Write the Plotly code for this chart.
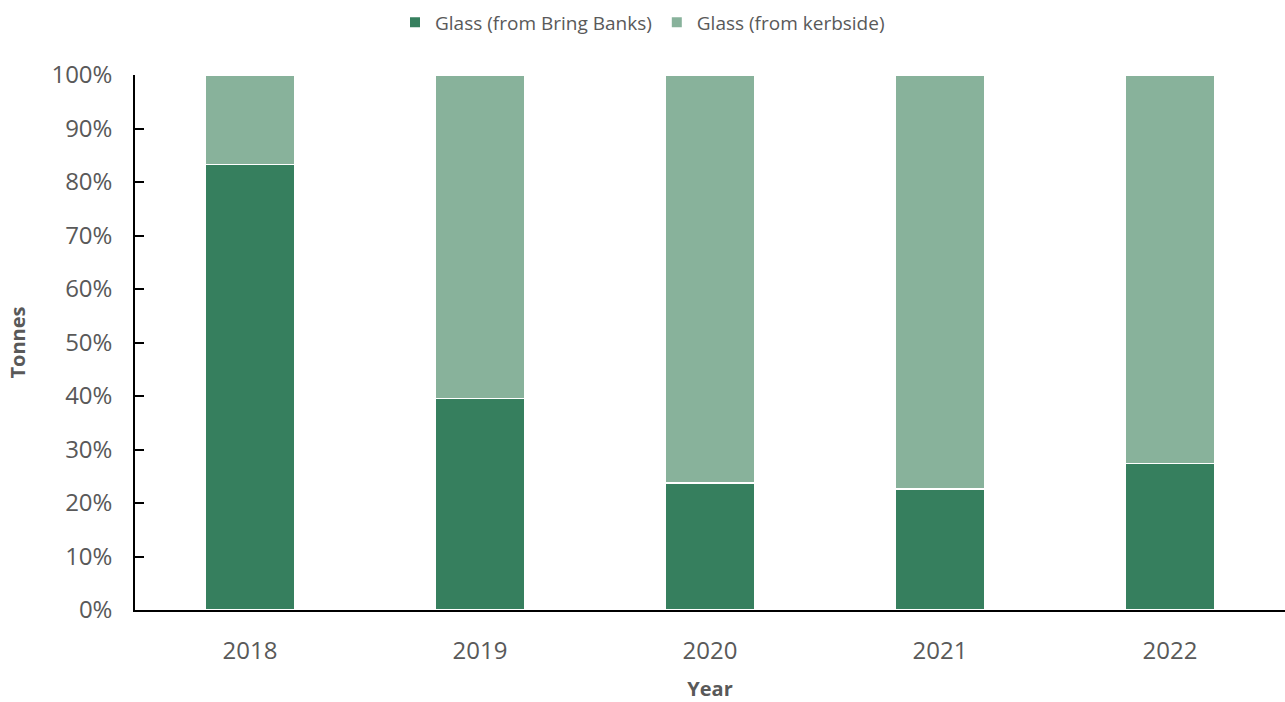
import plotly.graph_objects as go

years = ["2018", "2019", "2020", "2021", "2022"]
bring_banks_pct = [83.3, 39.5, 23.7, 22.6, 27.4]
kerbside_pct = [100 - v for v in bring_banks_pct]
y_ticks = list(range(0, 101, 10))
y_tick_labels = [f"{t}%" for t in y_ticks]

dark_green = "#367F5E"
light_green = "#88B29B"
text_color = "#595959"
font_family = "Open Sans, Liberation Sans, sans-serif"

fig = go.Figure()
fig.add_trace(go.Bar(
    x=years, y=bring_banks_pct, name="Glass (from Bring Banks)",
    marker=dict(color=dark_green, line=dict(color="white", width=1.5)),
))
fig.add_trace(go.Bar(
    x=years, y=kerbside_pct, name="Glass (from kerbside)",
    marker=dict(color=light_green, line=dict(color="white", width=1.5)),
))

fig.update_layout(
    barmode="stack",
    bargap=0.61,
    width=1285, height=702,
    margin=dict(l=135, r=0, t=75, b=92),
    paper_bgcolor="white", plot_bgcolor="white",
    font=dict(family=font_family, color=text_color),
    legend=dict(
        orientation="h", x=0.5, xanchor="center", xref="container",
        y=0.995, yanchor="top", yref="container",
        font=dict(size=19, color=text_color),
        traceorder="normal", itemsizing="constant",
    ),
    showlegend=True,
)

fig.update_xaxes(
    showline=True, linecolor="black", linewidth=1.5,
    ticks="", tickfont=dict(size=24, color=text_color),
    ticklabelstandoff=18,
    title=dict(text="<b>Year</b>", font=dict(size=20, color=text_color), standoff=22),
)
fig.update_yaxes(
    range=[0, 100], tickvals=y_ticks, ticktext=y_tick_labels,
    showline=True, linecolor="black", linewidth=1.5,
    ticks="inside", ticklen=9, tickcolor="black", tickwidth=1.5,
    showgrid=False, zeroline=False,
    tickfont=dict(size=24, color=text_color),
    title=dict(text="<b>Tonnes</b>", font=dict(size=20, color=text_color), standoff=20),
    ticklabelstandoff=16,
)

fig.write_html("out.html")
